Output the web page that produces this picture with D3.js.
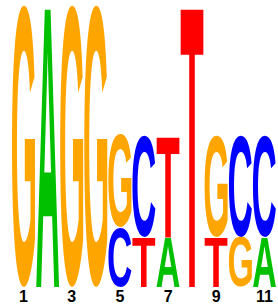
<!DOCTYPE html>
<html>
<head>
<meta charset="utf-8">
<script src="https://cdn.jsdelivr.net/npm/d3@7"></script>
<style>
  body { margin: 0; background: #fff; }
  svg { display: block; }
</style>
</head>
<body>
<div id="chart"></div>
<script>
// positions and the stacked letters (bottom to top), heights in bits
const positions = [1, 2, 3, 4, 5, 6, 7, 8, 9, 10, 11];
const tickLabels = ["1", "", "3", "", "5", "", "7", "", "9", "", "11"];
const letters = [
    ["G"], ["A"], ["G"], ["G"],
    ["C", "G"], ["T", "C"], ["A", "T"], ["T"],
    ["T", "G"], ["G", "C"], ["A", "C"]
];
const heights = [
    [2.0], [2.0], [2.0], [2.0],
    [0.42, 0.66], [0.35, 0.72], [0.35, 0.72], [2.0],
    [0.35, 0.72], [0.35, 0.72], [0.35, 0.72]
];
const colors = { A: "#00c000", C: "#0000ff", G: "#ffa500", T: "#ff0000" };

const width = 278, height = 304;
const margin = { top: 5, right: 2, bottom: 17, left: 12 };

const svg = d3.select("#chart").append("svg")
    .attr("width", width)
    .attr("height", height);

const x = d3.scaleBand()
    .domain(positions)
    .range([margin.left, width - margin.right])
    .paddingInner(0.04);

const y = d3.scaleLinear()
    .domain([0, 2])
    .range([height - margin.bottom, margin.top]);

// measure the ink box of each glyph so it can be stretched to fill its cell
const font = "bold 100px 'Liberation Sans', Arial, sans-serif";
const ctx = document.createElement("canvas").getContext("2d");
ctx.font = font;
function inkBox(ch) {
    const m = ctx.measureText(ch);
    return {
        left: -m.actualBoundingBoxLeft,
        right: m.actualBoundingBoxRight,
        top: -m.actualBoundingBoxAscent,
        bottom: m.actualBoundingBoxDescent
    };
}

const g = svg.append("g");

positions.forEach((p, i) => {
    let base = 0;
    letters[i].forEach((ch, j) => {
        const h = heights[i][j];
        const y0 = y(base), y1 = y(base + h);
        base += h;
        const b = inkBox(ch);
        const sx = x.bandwidth() / (b.right - b.left);
        const sy = (y0 - y1) / (b.bottom - b.top);
        g.append("text")
            .attr("transform", `translate(${x(p) - b.left * sx},${y1 - b.top * sy}) scale(${sx},${sy})`)
            .style("font", font)
            .attr("fill", colors[ch])
            .text(ch);
    });
});

// position labels (odd positions only)
svg.append("g")
    .selectAll("text")
    .data(positions.filter((d, i) => tickLabels[i] !== ""))
    .join("text")
    .attr("x", d => x(d) + x.bandwidth() / 2)
    .attr("y", 302)
    .attr("text-anchor", "middle")
    .style("font", "bold 16px 'Liberation Sans', Arial, sans-serif")
    .text(d => tickLabels[positions.indexOf(d)]);
</script>
</body>
</html>
